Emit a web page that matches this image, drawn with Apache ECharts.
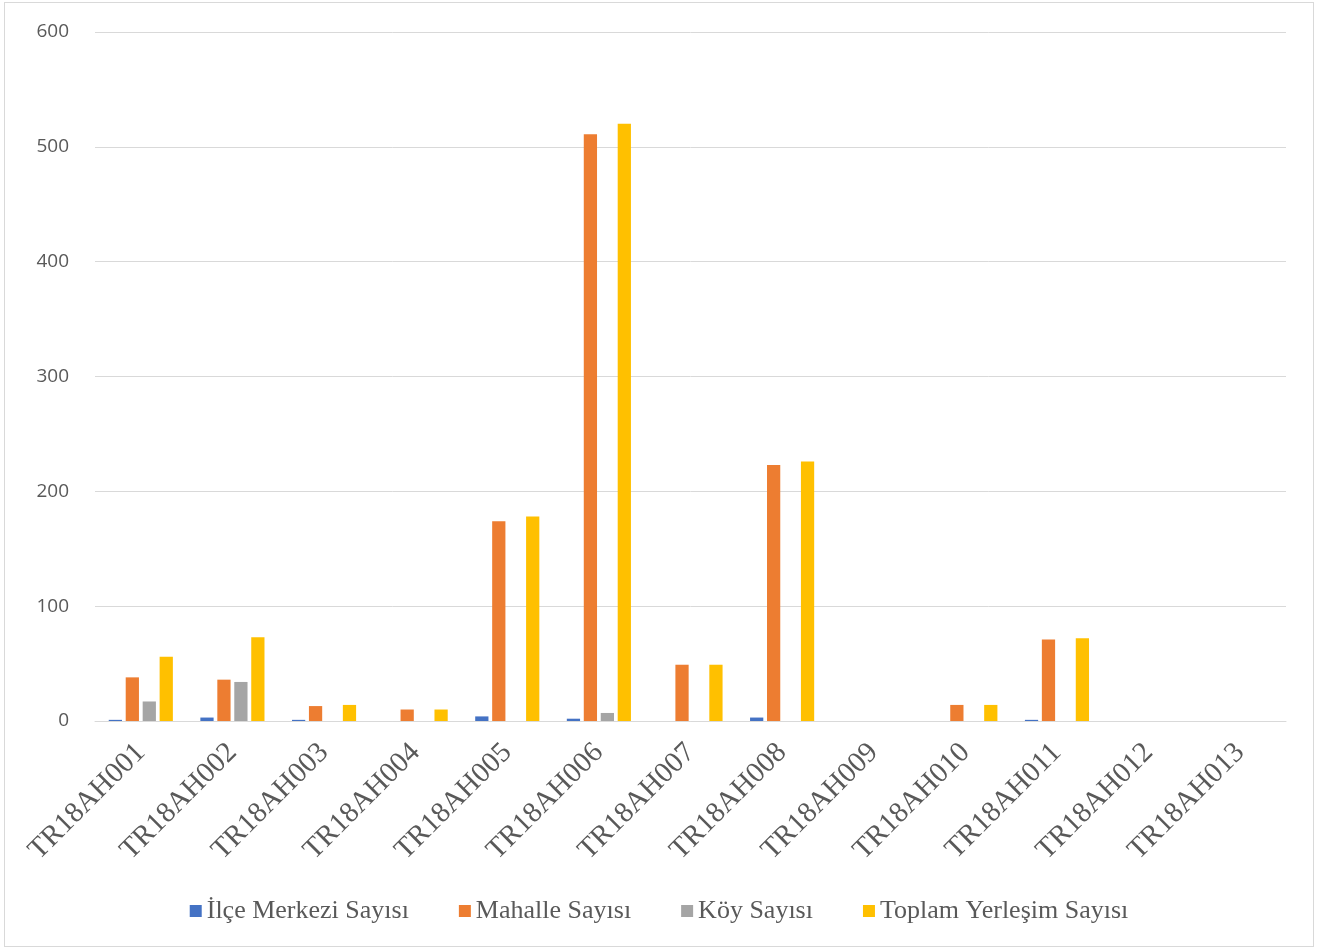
<!DOCTYPE html>
<html>
<head>
<meta charset="utf-8">
<script src="https://cdn.jsdelivr.net/npm/echarts@6/dist/echarts.min.js"></script>
<style>
  html, body { margin: 0; padding: 0; background: #fff; }
  #main { position: absolute; left: 4px; top: 2px; width: 1308px; height: 943px; border: 1px solid #d9d9d9; }
</style>
</head>
<body>
<div id="main"></div>
<script>
// bölgeler
var categories = ['TR18AH001', 'TR18AH002', 'TR18AH003', 'TR18AH004', 'TR18AH005', 'TR18AH006', 'TR18AH007',
  'TR18AH008', 'TR18AH009', 'TR18AH010', 'TR18AH011', 'TR18AH012', 'TR18AH013'];
var ilceMerkezi = [1, 3, 1, 0, 4, 2, 0, 3, 0, 0, 1, 0, 0];
var mahalle = [38, 36, 13, 10, 174, 511, 49, 223, 0, 14, 71, 0, 0];
var koy = [17, 34, 0, 0, 0, 7, 0, 0, 0, 0, 0, 0, 0];
var toplam = [56, 73, 14, 10, 178, 520, 49, 226, 0, 14, 72, 0, 0];
var yTicks = [0, 100, 200, 300, 400, 500, 600];

var chart = echarts.init(document.getElementById('main'));

function bar(name, data, color) {
  return {
    name: name,
    type: 'bar',
    data: data,
    barGap: '28%',
    barCategoryGap: '30%',
    itemStyle: { color: color }
  };
}

var option = {
  animation: false,
  textStyle: { fontFamily: 'Liberation Serif' },
  grid: { left: 90, right: 27, top: 29, bottom: 225 },
  legend: {
    bottom: 17,
    left: 'center',
    itemWidth: 12,
    itemHeight: 12,
    itemGap: 50,
    icon: 'rect',
    textStyle: { fontFamily: 'Liberation Serif', fontSize: 26, color: '#595959' },
    data: ['İlçe Merkezi Sayısı', 'Mahalle Sayısı', 'Köy Sayısı', 'Toplam Yerleşim Sayısı']
  },
  xAxis: {
    type: 'category',
    data: categories,
    axisLine: { lineStyle: { color: '#d9d9d9', width: 1 } },
    axisTick: { show: false },
    axisLabel: {
      rotate: 45,
      margin: 27,
      fontFamily: 'Liberation Serif',
      fontSize: 29,
      color: '#595959'
    }
  },
  yAxis: {
    type: 'value',
    min: yTicks[0],
    max: yTicks[yTicks.length - 1],
    interval: 100,
    axisLine: { show: false },
    axisTick: { show: false },
    splitLine: { lineStyle: { color: '#d9d9d9', width: 1 } },
    axisLabel: {
      margin: 26,
      fontFamily: 'Open Sans',
      fontSize: 19,
      color: '#595959'
    }
  },
  series: [
    bar('İlçe Merkezi Sayısı', ilceMerkezi, '#4472C4'),
    bar('Mahalle Sayısı', mahalle, '#ED7D31'),
    bar('Köy Sayısı', koy, '#A5A5A5'),
    bar('Toplam Yerleşim Sayısı', toplam, '#FFC000')
  ]
};

chart.setOption(option);
</script>
</body>
</html>
